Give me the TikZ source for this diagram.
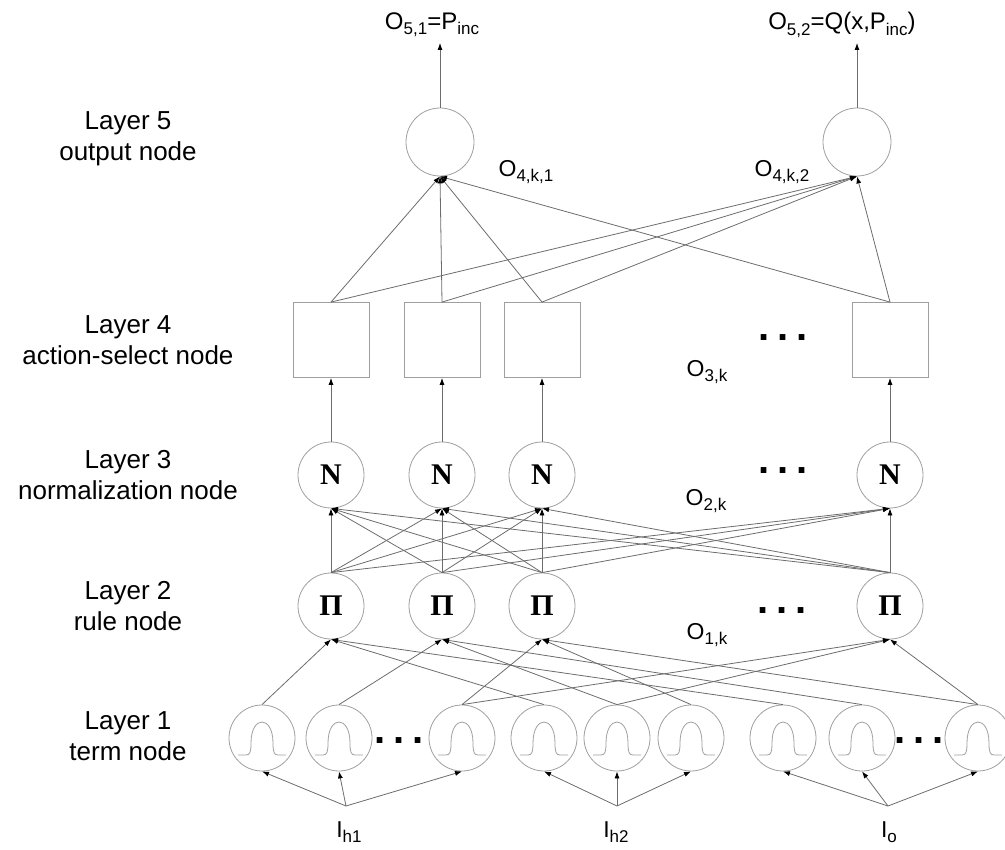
\documentclass[tikz,border=0pt]{standalone}
\usepackage{fontspec}
\setmainfont{Liberation Sans}
\newfontfamily\opfont{Liberation Serif}
\usetikzlibrary{arrows.meta}

\newcommand{\lw}[1]{\raisebox{-0.22em}{\fontsize{17}{17}\selectfont #1}}

\begin{document}
\begin{tikzpicture}[x=1pt,y=-1pt,line width=0.8pt,
  >={Latex[length=7pt,width=5pt,black]},
  every node/.style={font=\fontsize{26}{31}\selectfont},
  unit/.style={circle,draw=gray!75,minimum size=66pt,inner sep=0pt},
  op/.style={unit,font=\fontsize{30}{30}\selectfont\opfont\bfseries},
  act/.style={draw=gray!75,minimum width=76pt,minimum height=75pt,inner sep=0pt},
  wire/.style={draw=gray!85!black,->},
  bell/.style={draw=gray!75},
  olab/.style={font=\fontsize{23}{23}\selectfont},
  dots/.style={font=\fontsize{40}{40}\selectfont\bfseries,anchor=base,inner sep=0pt}]
\useasboundingbox (0,0) rectangle (1005,850);

\node[align=center] (lab5) at (128,139) {Layer 5\\output node};
\node[align=center] (lab4) at (128,340) {Layer 4\\action-select node};
\node[align=center] (lab3) at (128,475) {Layer 3\\normalization node};
\node[align=center] (lab2) at (128,606) {Layer 2\\rule node};
\node[align=center] (lab1) at (128,736) {Layer 1\\term node};

\node[unit,minimum size=68pt] (y1) at (440,142) {};
\node[unit,minimum size=68pt] (y2) at (857,142) {};
\coordinate (t1) at (440,43);
\coordinate (t2) at (857,43);
\draw[wire] (y1.north) -- (t1);
\draw[wire] (y2.north) -- (t2);
\node[olab,font=\fontsize{24}{24}\selectfont] (ty1) at (432,25) {O\lw{5,1}=P\lw{inc}};
\node[olab,font=\fontsize{24}{24}\selectfont] (ty2) at (842,25) {O\lw{5,2}=Q(x,P\lw{inc})};

\foreach \c/\x in {1/331,2/442,3/542,4/890} {
  \node[act] (a\c) at (\x,340) {};
  \node[op] (n\c) at (\x,475) {N};
  \node[op] (p\c) at (\x,606) {Π};
  \draw[wire] (n\c.north) -- (a\c.south);
}
\foreach \i in {1,...,4} \foreach \j in {1,2}
  \draw[wire] (a\i.north) -- (y\j.south);
\foreach \i in {1,...,4} \foreach \j in {1,...,4}
  \draw[wire] (p\i.north) -- (n\j.south);

\foreach \c/\x in {1/262,2/339,3/462,4/544,5/617,6/691,7/783,8/862,9/978} {
  \node[unit] (m\c) at (\x,738) {};
  \draw[bell,shift={(m\c.center)}] (-24,17) -- (-16,17)
    .. controls (-12,17) and (-11,14) .. (-11,5)
    .. controls (-11,-23) and (11,-23) .. (11,5)
    .. controls (11,14) and (12,17) .. (16,17) -- (24,17);
}
\foreach \p/\m in {1/1,1/4,1/7,2/2,2/5,2/8,3/3,3/6,3/9,4/3,4/5,4/9}
  \draw[wire] (m\m.north) -- (p\p.south);

\coordinate (ih1) at (346,806);
\coordinate (ih2) at (617,806);
\coordinate (io) at (888,806);
\foreach \c in {1,2,3} \draw[wire] (ih1) -- (m\c.south);
\foreach \c in {4,5,6} \draw[wire] (ih2) -- (m\c.south);
\foreach \c in {7,8,9} \draw[wire] (io) -- (m\c.south);
\node[olab,anchor=north] (lh1) at (349,818) {I\lw{h1}};
\node[olab,anchor=north] (lh2) at (616,818) {I\lw{h2}};
\node[olab,anchor=north] (lo) at (889,818) {I\lw{o}};

\node[dots] (d4) at (783,341) {.\kern8pt.\kern8pt.};
\node[dots] (d3) at (783,474) {.\kern8pt.\kern8pt.};
\node[dots] (d2) at (782,613) {.\kern8pt.\kern8pt.};
\node[dots] (d1a) at (399,743) {.\kern8pt.\kern8pt.};
\node[dots] (d1b) at (919,743) {.\kern8pt.\kern8pt.};

\node[olab] (o41) at (526,172) {O\lw{4,k,1}};
\node[olab] (o42) at (782,172) {O\lw{4,k,2}};
\node[olab] (o3) at (707,372) {O\lw{3,k}};
\node[olab] (o2) at (706,501) {O\lw{2,k}};
\node[olab] (o1) at (707,635) {O\lw{1,k}};
\end{tikzpicture}
\end{document}
